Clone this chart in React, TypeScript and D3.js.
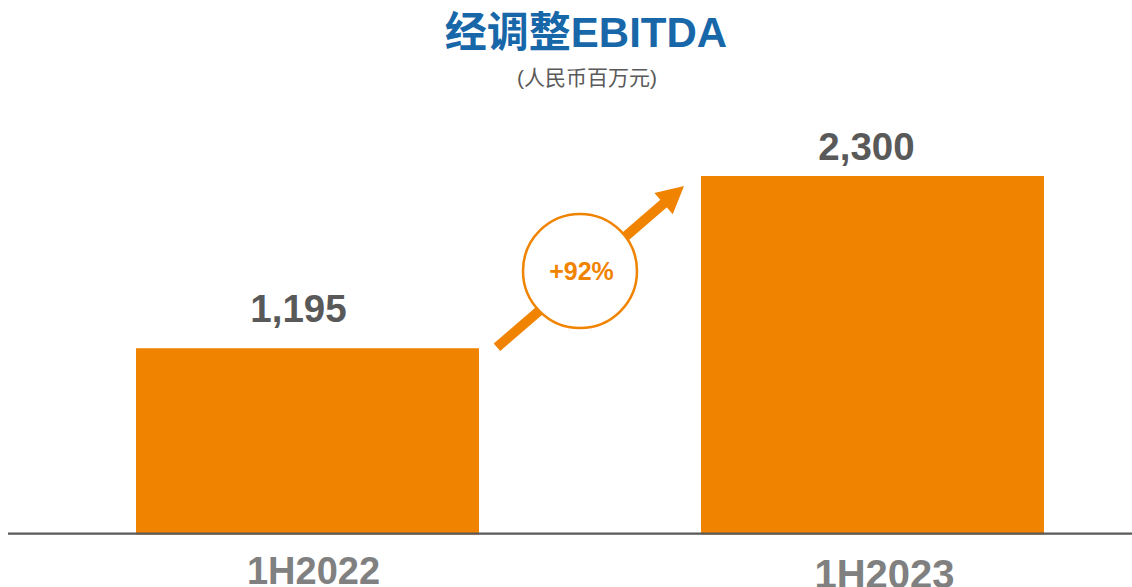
import React from "react";
import * as d3 from "d3";

const categories = ["1H2022", "1H2023"];
const values = [1195, 2300];
const valueLabels = ["1,195", "2,300"];
const growthLabel = "+92%";
const title = "经调整EBITDA";
const subtitle = "(人民币百万元)";

const W = 1132;
const H = 587;
const ORANGE = "#F08300";
const DARK = "#595959";
const AXISGRAY = "#808080";
const BLUE = "#1767A9";
const FONT = "'Liberation Sans', Arial, 'Noto Sans CJK SC', sans-serif";

// per-label fine placement tweaks (style, not data)
const valueGap = [26, 16.5];
const valueDx = [-9, -6];
const catBaseline = [584, 587.5];
const catSize = [38, 40];
const catDx = [6, 12];

export default function App() {
  const x = d3
    .scaleBand<string>()
    .domain(categories)
    .range([25, 1155])
    .paddingInner(0.393)
    .paddingOuter(0.1965);
  const y = d3.scaleLinear().domain([0, 2300]).range([534.5, 176]);
  const bw = x.bandwidth();

  // arrow geometry derived from the bars
  const x0 = (x(categories[0]) as number) + bw + 18;
  const y0 = y(values[0]) - 1;
  const x1 = (x(categories[1]) as number) - 17;
  const y1 = y(values[1]) + 10;
  const dx = x1 - x0;
  const dy = y1 - y0;
  const len = Math.sqrt(dx * dx + dy * dy);
  const ux = dx / len;
  const uy = dy / len;
  const px = -uy;
  const py = ux;
  const headLen = 27;
  const headHalf = 14;
  const shaftW = 10;
  const bx = x1 - ux * headLen;
  const by = y1 - uy * headLen;
  const headPts = [
    [x1, y1],
    [bx + px * headHalf, by + py * headHalf],
    [bx - px * headHalf, by - py * headHalf],
  ];
  const cx = ((x(categories[0]) as number) + bw + (x(categories[1]) as number)) / 2 - 10;
  const cy = 271;

  return (
    <svg
      width={W}
      height={H}
      style={{ position: "absolute", left: 0, top: 0, background: "#fff" }}
      fontFamily={FONT}
    >
      <text x={586} y={46.5} textAnchor="middle" fontSize={42} fontWeight="bold" fill={BLUE}>
        {title}
      </text>
      <text x={587} y={84.5} textAnchor="middle" fontSize={21} fill={DARK}>
        {subtitle}
      </text>

      {categories.map((c, i) => (
        <rect
          key={c}
          x={x(c)}
          y={y(values[i])}
          width={bw}
          height={y(0) - y(values[i])}
          fill={ORANGE}
        />
      ))}

      <line x1={8} x2={W} y1={533.6} y2={533.6} stroke={DARK} strokeWidth={2.4} />

      {categories.map((c, i) => (
        <text
          key={"v" + c}
          x={(x(c) as number) + bw / 2 + valueDx[i]}
          y={y(values[i]) - valueGap[i]}
          textAnchor="middle"
          fontSize={38.5}
          fontWeight="bold"
          fill={DARK}
        >
          {valueLabels[i]}
        </text>
      ))}

      {categories.map((c, i) => (
        <text
          key={"c" + c}
          x={(x(c) as number) + bw / 2 + catDx[i]}
          y={catBaseline[i]}
          textAnchor="middle"
          fontSize={catSize[i]}
          fontWeight="bold"
          fill={AXISGRAY}
        >
          {c}
        </text>
      ))}

      <line
        x1={x0}
        y1={y0}
        x2={bx + ux * 2}
        y2={by + uy * 2}
        stroke={ORANGE}
        strokeWidth={shaftW}
      />
      <polygon points={headPts.map((p) => p.join(",")).join(" ")} fill={ORANGE} />
      <circle cx={cx} cy={cy} r={57} fill="#fff" stroke={ORANGE} strokeWidth={2.5} />
      <text x={cx + 1.5} y={280} textAnchor="middle" fontSize={25} fontWeight="bold" fill={ORANGE}>
        {growthLabel}
      </text>
    </svg>
  );
}
